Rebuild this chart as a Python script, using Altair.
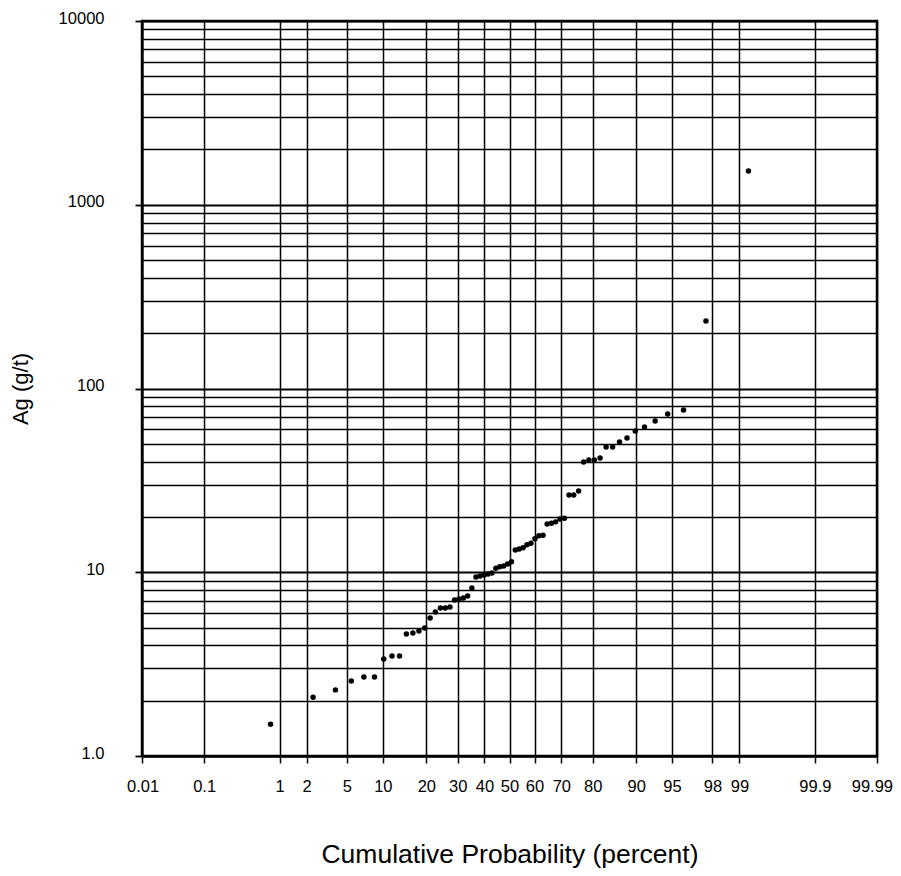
import json
from statistics import NormalDist

import altair as alt
import pandas as pd

# Cumulative probability (percent) of each sample
cum_prob_pct = [
    0.78, 2.34, 3.91, 5.47, 7.03, 8.59, 10.16, 11.72, 13.28, 14.84,
    16.41, 17.97, 19.53, 21.09, 22.66, 24.22, 25.78, 27.34, 28.91, 30.47,
    32.03, 33.59, 35.16, 36.72, 38.28, 39.84, 41.41, 42.97, 44.53, 46.09,
    47.66, 49.22, 50.78, 52.34, 53.91, 55.47, 57.03, 58.59, 60.16, 61.72,
    63.28, 64.84, 66.41, 67.97, 69.53, 71.09, 72.66, 74.22, 75.78, 77.34,
    78.91, 80.47, 82.03, 83.59, 85.16, 86.72, 88.28, 89.84, 91.41, 92.97,
    94.53, 96.09, 97.66, 99.22,
]

# Ag grade (g/t) of each sample
ag_gpt = [
    1.49, 2.09, 2.29, 2.56, 2.69, 2.69, 3.37, 3.50, 3.50, 4.61,
    4.67, 4.79, 4.97, 5.64, 6.08, 6.39, 6.39, 6.47, 7.06, 7.15,
    7.24, 7.43, 8.21, 9.42, 9.54, 9.66, 9.78, 9.91, 10.5, 10.7,
    10.8, 11.1, 11.4, 13.2, 13.4, 13.6, 14.1, 14.4, 15.2, 15.8,
    15.9, 18.3, 18.5, 18.8, 19.5, 19.7, 26.3, 26.3, 27.7, 39.8,
    40.8, 40.8, 41.9, 48.0, 48.0, 51.1, 53.8, 58.7, 61.7, 66.5,
    72.7, 76.4, 233, 1527,
]

prob_ticks = [0.01, 0.1, 1, 2, 5, 10, 20, 30, 40, 50, 60, 70, 80, 90, 95, 98, 99, 99.9, 99.99]
prob_labels = ["0.01", "0.1", "1", "2", "5", "10", "20", "30", "40", "50",
               "60", "70", "80", "90", "95", "98", "99", "99.9", "99.99"]

y_major = [1, 10, 100, 1000, 10000]
y_major_labels = ["1.0", "10", "100", "1000", "10000"]
y_grid = [k * 10 ** d for d in range(4) for k in range(1, 10)] + [10000]

nd = NormalDist()
tick_z = [nd.inv_cdf(p / 100.0) for p in prob_ticks]

df = pd.DataFrame({
    "prob": cum_prob_pct,
    "z": [nd.inv_cdf(p / 100.0) for p in cum_prob_pct],
    "ag": ag_gpt,
})

x_label_expr = f"{json.dumps(prob_labels)}[indexof({json.dumps(tick_z)}, datum.value)]"
major_test = f"indexof({json.dumps(y_major)}, datum.value) >= 0"
y_label_expr = (f"{major_test} ? {json.dumps(y_major_labels)}"
                f"[indexof({json.dumps(y_major)}, datum.value)] : ''")

FONT = "Liberation Sans"

x_axis = alt.Axis(
    values=tick_z,
    labelExpr=x_label_expr,
    title="Cumulative Probability (percent)",
    titleFont=FONT, titleFontSize=26.5, titleFontWeight="normal", titleColor="black",
    titleX=367.5, titleY=106, titleBaseline="alphabetic", titleAlign="center",
    labelFont=FONT, labelFontSize=16.5, labelColor="black", labelPadding=15,
    labelOverlap=False, labelFlush=True, labelFlushOffset=15.5, labelBound=False,
    tickColor="black", tickSize=7, tickWidth=1.5,
    domainColor="black", domainWidth=2,
    grid=True, gridColor="black", gridWidth=1.5, gridOpacity=1,
)

y_axis = alt.Axis(
    values=y_grid,
    labelExpr=y_label_expr,
    title="Ag (g/t)",
    titleFont=FONT, titleFontSize=22, titleFontWeight="normal", titleColor="black",
    titleX=-115, titleY=367.5, titleBaseline="alphabetic", titleAlign="center",
    labelFont=FONT, labelFontSize=16.5, labelColor="black", labelPadding=31,
    labelBaseline="alphabetic", labelOffset=2,
    labelOverlap=False, labelFlush=False, labelBound=False,
    tickColor="black", tickSize=7, tickWidth=1.8,
    tickOpacity={"condition": {"test": major_test, "value": 1}, "value": 0},
    domainColor="black", domainWidth=2,
    grid=True, gridColor="black", gridOpacity=1,
    gridWidth={"condition": {"test": major_test, "value": 2.2}, "value": 1.4},
)

chart = alt.Chart(df).mark_circle(size=30, color="black", opacity=1).encode(
    x=alt.X("z:Q", scale=alt.Scale(domain=[tick_z[0], tick_z[-1]], nice=False, zero=False), axis=x_axis),
    y=alt.Y("ag:Q", scale=alt.Scale(type="log", domain=[1, 10000], nice=False), axis=y_axis),
    tooltip=["prob:Q", "ag:Q"],
).properties(
    width=735,
    height=735,
    autosize=alt.AutoSizeParams(type="none"),
    padding={"left": 134, "top": 13, "right": 16, "bottom": 112},
    background="white",
).configure_view(
    stroke="black", strokeWidth=2.5,
)

chart.save("out.html", embed_options={"renderer": "svg", "actions": False})
